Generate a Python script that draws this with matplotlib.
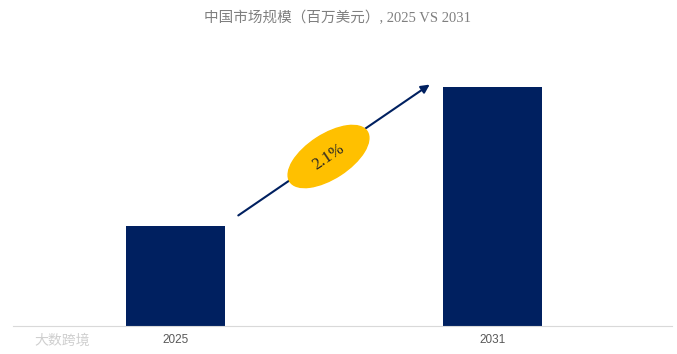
import matplotlib.pyplot as plt
from matplotlib.patches import Ellipse

years = ["2025", "2031"]
market_size = [41.8, 100.0]
cagr_label = "2.1%"
title = "中国市场规模（百万美元）, 2025 VS 2031"

navy = "#002060"
gold = "#FFC000"
fonts = ["Liberation Serif", "Noto Sans CJK SC", "DejaVu Sans"]
tick_fonts = ["Liberation Sans Narrow", "Liberation Sans", "DejaVu Sans"]

fig = plt.figure(figsize=(6.77, 3.54), dpi=100)
ax = fig.add_axes([13 / 677, 1 - 326 / 354, 659 / 677, 266 / 354])

x = list(range(len(years)))
ax.bar(x, market_size, width=0.312, color=navy)
ax.set_xlim(-0.513, 1.566)
ax.set_ylim(0, 100 * 266 / 239)
ax.set_xticks(x)
ax.set_xticklabels(years, fontsize=8.5, color="#595959", family=tick_fonts)
ax.tick_params(axis="x", length=0, pad=6)
ax.set_yticks([])
for s in ["top", "left", "right"]:
    ax.spines[s].set_visible(False)
ax.spines["bottom"].set_color("#d9d9d9")

# overlay in pixel coordinates for title, arrow and badge
ov = fig.add_axes([0, 0, 1, 1], facecolor="none")
ov.set_xlim(0, 677)
ov.set_ylim(354, 0)
ov.axis("off")

ov.text(338, 18, title, ha="center", va="center", fontsize=10.5,
        color="#7f7f7f", family=fonts)

ov.annotate("", xy=(432, 83), xytext=(236, 217),
            arrowprops=dict(arrowstyle="-|>,head_length=0.5,head_width=0.25",
                            color=navy, lw=1.5))
ov.add_patch(Ellipse((328.5, 156.5), 92, 44, angle=-33, color=gold, zorder=3))
ov.text(328.5, 156.5, cagr_label, ha="center", va="center", rotation=34,
        fontsize=12, color="#262626", family=fonts, zorder=4)

ov.text(62, 341, "大数跨境", ha="center", va="center", fontsize=10,
        color="#cfcfcf", family=fonts)

fig.savefig("out.png", dpi=100)
